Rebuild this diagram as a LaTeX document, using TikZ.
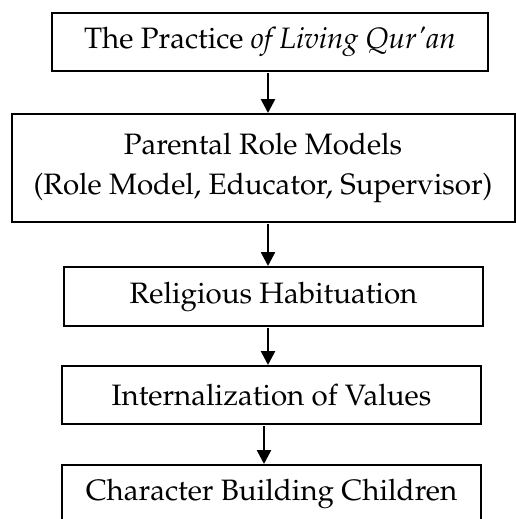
\documentclass[tikz,border=0pt]{standalone}
\usepackage[T1]{fontenc}
\usepackage{mathpazo}
\usepackage{tikz}
\usetikzlibrary{arrows.meta}
\tikzstyle{box}=[draw, line width=2pt, rectangle, inner sep=0pt, align=center, font=\fontsize{29.5}{40}\selectfont]
\tikzstyle{edge} = [draw,line width=2.6pt,-{Triangle[width=14pt,length=14pt]}]

\begin{document}
\begin{tikzpicture}[x=1pt, y=1pt]
\useasboundingbox (0,0) rectangle (515,-519);
% First we draw the boxes

\foreach \pos/\w/\h/\label/\name in {
	{(270,-42)/436/58/1/{The Practice \textit{of Living Qur\textquotesingle an}}},
	{(263,-168)/503/108/2/{Parental Role Models\\(Role Model, Educator, Supervisor)}},
	{(273.5,-296.5)/419/59/3/{Religious Habituation}},
	{(271.5,-395)/419/58/4/{Internalization of Values}},
	{(271.5,-494)/419/58/5/{Character Building Children}}}
\node[box, minimum width=\w pt, minimum height=\h pt] (\label) at \pos {\name};

% Connect boxes with arrows
\foreach \source/\dest/\dx in {
	1/2/-2,
	2/3/5,
	3/4/-5.5,
	4/5/-7.5}
\path[edge] ([xshift=\dx pt, yshift=-1pt]\source.south) -- ([xshift=\dx pt]\source.south |- \dest.north);

\end{tikzpicture}
\end{document}
